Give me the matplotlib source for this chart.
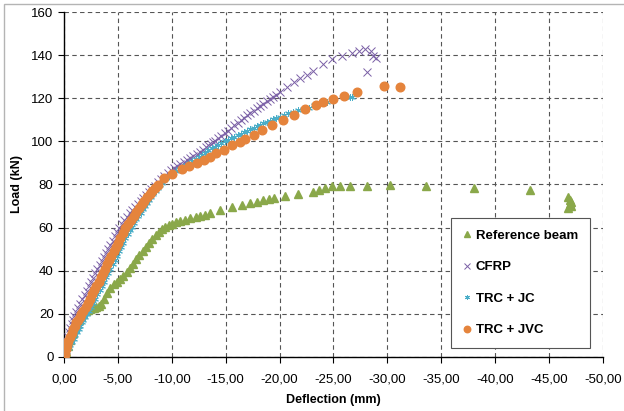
import matplotlib
matplotlib.use("Agg")
import matplotlib.pyplot as plt
from matplotlib.patches import Rectangle
from matplotlib.ticker import FixedLocator, FuncFormatter

# Reference beam (deflection mm, load kN)
ref_d = [0, -0.2, -0.4, -0.6, -0.8, -1.0, -1.2, -1.4, -1.6, -1.8, -2.0, -2.2, -2.4, -2.6, -2.8,
         -3.0, -3.2, -3.4, -3.7, -4.0, -4.3, -4.6, -4.9, -5.2, -5.5, -5.8, -6.1, -6.4, -6.7,
         -7.0, -7.3, -7.6, -7.9, -8.2, -8.5, -8.8, -9.1, -9.4, -9.7, -10.0, -10.4, -10.8,
         -11.2, -11.7, -12.2, -12.6, -13.1, -13.5, -14.5, -15.6, -16.5, -17.3, -17.9, -18.5,
         -19.0, -19.5, -20.5, -21.7, -23.1, -23.7, -24.2, -24.9, -25.6, -26.5, -28.1, -30.2,
         -33.6, -38.0, -43.2, -46.8, -46.9, -47.0, -46.9, -47.0, -46.8]
ref_l = [0, 2.5, 5, 8, 11, 13.5, 15.5, 17, 18.5, 20, 21.2, 22, 22.4, 22.6, 22.8,
         23.1, 23.6, 24.5, 26.8, 29.5, 32, 33.8, 35, 36.2, 37.5, 39.3, 41.2, 43.3, 45.3,
         47.3, 49.2, 51.1, 53, 54.8, 56.5, 58, 59.2, 60.2, 61, 61.7, 62.4, 63.1,
         63.6, 64.3, 65, 65.5, 66, 66.6, 68.2, 69.4, 70.5, 71.3, 72, 72.8,
         73.3, 73.6, 74.7, 75.5, 76.6, 77.4, 78.3, 79.3, 79.5, 79.5, 79.5, 79.8,
         79.5, 78.2, 77.6, 74, 73, 72, 71, 70, 69]

# CFRP
cfrp_d = [0, -0.1, -0.2, -0.3, -0.4, -0.5, -0.6, -0.7, -0.8, -0.95, -1.1, -1.3, -1.5, -1.7,
          -1.9, -2.1, -2.3, -2.5, -2.7, -2.9, -3.1, -3.3, -3.5, -3.7, -3.9, -4.1, -4.3,
          -4.5, -4.7, -4.9, -5.1, -5.35, -5.6, -5.85, -6.1, -6.35, -6.6, -6.85, -7.1, -7.35,
          -7.6, -7.85, -8.1, -8.4, -8.7, -9.0, -9.3, -9.6, -9.9, -10.2, -10.5, -10.8, -11.1,
          -11.4, -11.7, -12.0, -12.3, -12.6, -12.9, -13.2, -13.4, -13.6, -13.8, -14.0, -14.3,
          -14.6, -14.9, -15.2, -15.5, -15.8, -16.1, -16.4, -16.7, -17.0, -17.3, -17.6, -17.9,
          -18.2, -18.5, -18.8, -19.1, -19.4, -19.7, -20.0, -20.7, -21.3, -21.9, -22.5, -23.1,
          -24.0, -24.9, -25.8, -26.7, -27.4, -27.9, -28.5, -28.7, -28.9, -28.1]
cfrp_l = [0, 2.5, 5, 7.5, 9.5, 11.5, 13.5, 15.3, 17, 19, 20.8, 22.8, 24.8, 26.8,
          28.8, 30.8, 32.8, 34.8, 36.8, 38.8, 40.7, 42.6, 44.5, 46.4, 48.3, 50.2, 52.1,
          54, 55.9, 57.8, 59.6, 61.6, 63.4, 65.1, 66.7, 68.2, 69.7, 71.1, 72.5, 73.9,
          75.2, 76.5, 77.8, 79.5, 81.1, 82.6, 84, 85.3, 86.5, 87.6, 88.6, 89.6, 90.5,
          91.4, 92.3, 93.2, 94.1, 95.1, 96.2, 97.4, 98.2, 98.9, 99.6, 100.3, 101.4,
          102.6, 103.8, 105, 106.2, 107.4, 108.6, 109.8, 110.9, 112, 113.1, 114.2, 115.3,
          116.4, 117.5, 118.6, 119.7, 120.7, 121.7, 122.8, 125.3, 127.5, 129.3, 130.8, 132.6,
          135.8, 138, 139.6, 141.2, 142.1, 142.8, 142.1, 139.4, 138.8, 132.2]

# TRC + JC
jc_d = [0, -0.15, -0.3, -0.45, -0.6, -0.75, -0.9, -1.05, -1.2, -1.35, -1.5, -1.65, -1.8, -1.95,
        -2.1, -2.3, -2.5, -2.7, -2.9, -3.1, -3.3, -3.5, -3.7, -3.9, -4.1, -4.3, -4.5, -4.7,
        -4.9, -5.1, -5.3, -5.5, -5.7, -5.9, -6.1, -6.3, -6.5, -6.7, -6.9, -7.1, -7.3, -7.5,
        -7.7, -7.9, -8.1, -8.3, -8.5, -8.7, -8.9, -9.1, -9.3, -9.5, -9.7, -9.9, -10.1, -10.4,
        -10.7, -11.0, -11.3, -11.6, -11.9, -12.2, -12.5, -12.8, -13.1, -13.4, -13.7, -14.0,
        -14.3, -14.6, -14.9, -15.2, -15.5, -15.8, -16.1, -16.4, -16.7, -17.0, -17.3, -17.6,
        -17.9, -18.2, -18.5, -18.8, -19.1, -19.4, -19.7, -20.0, -20.4, -20.8, -21.2, -21.7,
        -22.2, -22.7, -23.2, -23.7, -24.4, -26.2, -26.5, -26.7]
jc_l = [0, 1, 2.5, 4, 5.5, 7, 8.5, 10, 11.5, 13, 14.5, 16, 17.3, 18.6,
        19.8, 21.5, 23.3, 25.2, 27.1, 29, 31, 33, 35, 37, 39, 41, 43, 45,
        47, 49, 51, 53, 55, 57, 58.8, 60.5, 62.2, 63.8, 65.4, 67, 68.6, 70.1,
        71.6, 73, 74.4, 75.8, 77.1, 78.4, 79.6, 80.8, 81.9, 82.9, 83.8, 84.6, 85.3, 86.3,
        87.3, 88.3, 89.2, 90.1, 91, 91.9, 92.8, 93.8, 94.8, 95.8, 96.7, 97.6,
        98.4, 99.2, 100, 100.8, 101.5, 102.2, 102.9, 103.6, 104.3, 105, 105.7, 106.3,
        107, 107.7, 108.4, 109, 109.6, 110.3, 110.9, 111.5, 112.3, 113.1, 113.8, 114.5,
        115.1, 115.7, 116.7, 117.7, 118.4, 120.5, 120.8, 120.7]

# TRC + JVC
jvc_d = [0, -0.1, -0.2, -0.3, -0.4, -0.55, -0.7, -0.85, -1.0, -1.15, -1.3, -1.45, -1.6, -1.8,
         -2.0, -2.2, -2.4, -2.6, -2.8, -3.0, -3.2, -3.4, -3.6, -3.8, -4.0, -4.2, -4.4, -4.6,
         -4.8, -5.0, -5.2, -5.45, -5.7, -5.95, -6.2, -6.45, -6.7, -6.95, -7.2, -7.45, -7.7,
         -7.95, -8.2, -8.45, -8.7, -9.3, -10.0, -10.9, -11.6, -12.3, -13.0, -13.5, -14.1,
         -14.8, -15.6, -16.3, -16.8, -17.6, -18.4, -19.3, -20.3, -21.3, -22.4, -23.4, -24.05,
         -25.0, -26.0, -27.2, -29.7, -31.2]
jvc_l = [0, 1.5, 3.5, 5.5, 7.5, 9.5, 11.3, 13, 14.5, 16, 17.3, 18.6, 19.8, 21.5,
         23.3, 25.2, 27.1, 29, 31, 33, 35, 37, 39, 41, 43, 45, 47, 49,
         51, 53, 55, 57.4, 59.6, 61.7, 63.6, 65.5, 67.3, 69.1, 70.8, 72.4, 74,
         75.5, 77, 78.4, 79.8, 82.8, 84.9, 87.3, 88.8, 90, 91.5, 92.6, 94.5,
         96, 98.4, 99.8, 101.2, 103, 105.3, 107.5, 109.8, 112.2, 115.2, 116.9, 118.1,
         119.5, 121.1, 123, 125.7, 125.1]

x_ticks = [0, -5, -10, -15, -20, -25, -30, -35, -40, -45, -50]
y_ticks = [0, 20, 40, 60, 80, 100, 120, 140, 160]

plt.rcParams['font.family'] = ['Liberation Sans', 'DejaVu Sans']

fig = plt.figure(figsize=(6.24, 4.11), dpi=100)
ax = fig.add_axes([0.1026, 0.1314, 0.8637, 0.8394])

fig.add_artist(Rectangle((4 / 624, -0.05), 1.1, (407 / 411) + 0.05, transform=fig.transFigure,
                         fill=False, edgecolor='#b4b4b4', linewidth=1.0))

ax.plot(ref_d, ref_l, linestyle='none', marker='^', markersize=5.5,
        color='#8aa84a', label='Reference beam', zorder=3)
ax.plot(cfrp_d, cfrp_l, linestyle='none', marker='x', markersize=5.5, markeredgewidth=0.7,
        color='#7a5fa6', label='CFRP', zorder=3)
ax.plot(jc_d, jc_l, linestyle='none', marker=(6, 2, 0), markersize=4.8, markeredgewidth=0.7,
        color='#4aaec8', label='TRC + JC', zorder=3)
ax.plot(jvc_d, jvc_l, linestyle='none', marker='o', markersize=6.2,
        color='#e5843c', label='TRC + JVC', zorder=3)

ax.set_xlim(0, -50)
ax.set_ylim(0, 160)
ax.xaxis.set_major_locator(FixedLocator(x_ticks))
ax.yaxis.set_major_locator(FixedLocator(y_ticks))
ax.xaxis.set_major_formatter(FuncFormatter(lambda v, p: ('%.2f' % v).replace('.', ',').replace('-0,00', '0,00')))

ax.grid(True, color='#555555', linestyle=(0, (4, 3)), linewidth=0.8, zorder=0)
ax.set_axisbelow(True)
for s in ['top', 'right']:
    ax.spines[s].set_visible(False)
for s in ['left', 'bottom']:
    ax.spines[s].set_linewidth(1.0)
    ax.spines[s].set_color('black')

ax.tick_params(axis='both', direction='out', length=4, width=0.8, labelsize=9.5, colors='black')
ax.tick_params(axis='x', pad=8)
ax.set_xlabel('Deflection (mm)', fontsize=9, fontweight='bold', labelpad=6)
ax.set_ylabel('Load (kN)', fontsize=9, fontweight='bold', labelpad=6)

leg = ax.legend(loc='lower right', bbox_to_anchor=(0.976, 0.026),
                prop={'weight': 'bold', 'size': 9.5}, labelspacing=1.45, handlelength=0.7,
                handletextpad=0.3, borderpad=0.9, fancybox=False, framealpha=1,
                markerscale=0.75, borderaxespad=0)
leg.get_frame().set_edgecolor('#555555')
leg.get_frame().set_linewidth(0.8)

fig.savefig('out.png', dpi=100)
